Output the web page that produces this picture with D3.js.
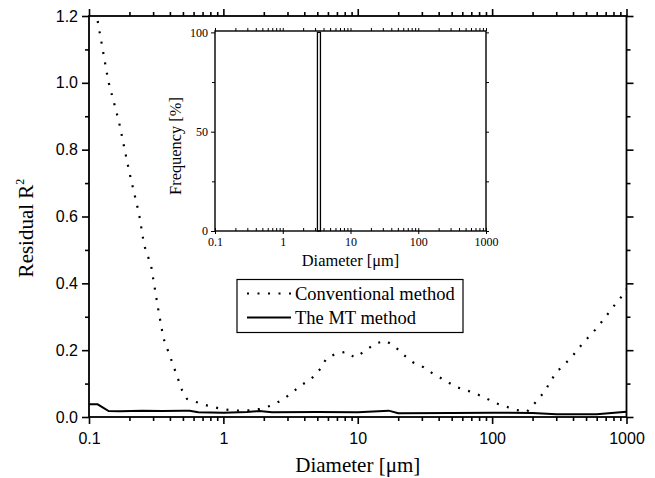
<!DOCTYPE html>
<html><head><meta charset="utf-8">
<script src="https://cdn.jsdelivr.net/npm/d3@7"></script>
<style>body{margin:0;background:#fff}svg{display:block}</style>
</head><body><svg id="c" width="655" height="478"></svg>
<script>
// ---------- data ----------
const convDiameter = [0.1,0.115,0.139,0.167,0.2,0.236,0.257,0.29,0.326,0.358,0.407,0.492,0.536,0.637,0.764,0.923,
  1.1,1.32,1.56,1.86,2.22,2.66,3.16,3.76,4.51,5.3,5.83,6.85,8.13,9.51,11.3,13.5,16.2,19.0,21.9,25.9,30.9,36.5,44.1,
  53.0,63.2,74.6,90.2,107,127,151,182,213,249,275,313,367,424,475,555,640,738,841,973,1000];
const convResidual = [1.34,1.194,1.006,0.884,0.731,0.607,0.515,0.452,0.327,0.236,0.174,0.081,0.054,0.044,0.034,0.026,
  0.021,0.019,0.020,0.024,0.033,0.048,0.069,0.094,0.114,0.145,0.175,0.189,0.195,0.178,0.197,0.220,0.228,0.210,0.186,0.163,
  0.149,0.129,0.111,0.091,0.081,0.071,0.056,0.041,0.031,0.021,0.016,0.046,0.079,0.111,0.141,0.168,0.196,0.222,0.250,
  0.280,0.312,0.342,0.372,0.383];
const mtDiameter = [0.1,0.116,0.14,0.17,0.25,0.35,0.5,0.56,0.65,1.0,1.5,1.85,2.3,5,10,17,20,50,100,200,300,600,1000];
const mtResidual = [0.038,0.038,0.018,0.017,0.019,0.018,0.019,0.019,0.014,0.013,0.015,0.018,0.014,0.015,0.014,0.019,0.011,0.012,0.013,0.012,0.008,0.008,0.016];

const xMajorTicks = [0.1,1,10,100,1000];
const yMajorTicks = [0,0.2,0.4,0.6,0.8,1.0,1.2];
const yMinorTicks = [0.1,0.3,0.5,0.7,0.9,1.1];

const insetBinStart = [3.25];
const insetBinEnd = [3.6];
const insetFreq = [100];
const insetYTicks = [0,50,100];
const insetYMinor = [25,75];

const legendLabels = ["Conventional method","The MT method"];

// ---------- layout ----------
const svg = d3.select("#c");
const M = {left:89, right:626.5, top:16, bottom:417};
const x = d3.scaleLog().domain([0.1,1000]).range([M.left,M.right]);
const y = d3.scaleLinear().domain([0,1.2]).range([M.bottom,M.top]);

const minorLog = [];
for (let e=-1;e<3;e++) for (let k=2;k<=9;k++) minorLog.push(k*Math.pow(10,e));

const sans = "Liberation Sans, Arial, sans-serif";
const serif = "Liberation Serif, Times New Roman, serif";

function styleAxis(g){
  g.select(".domain").remove();
  g.selectAll(".tick line").attr("stroke","#000").attr("stroke-width",1.6);
}

// main axes
const gx = svg.append("g").attr("transform",`translate(0,${M.bottom})`);
gx.call(d3.axisBottom(x).tickValues(xMajorTicks).tickSize(7).tickPadding(9)
  .tickFormat(d=>d3.format("~g")(d)));
styleAxis(gx);
gx.selectAll("text").attr("font-family",sans).attr("font-size",16).attr("fill","#000");
const gxm = svg.append("g").attr("transform",`translate(0,${M.bottom})`)
  .call(d3.axisBottom(x).tickValues(minorLog).tickSize(4).tickFormat(""));
styleAxis(gxm);

const gt = svg.append("g").attr("transform",`translate(0,${M.top})`)
  .call(d3.axisTop(x).tickValues(xMajorTicks).tickSize(7).tickFormat(""));
styleAxis(gt);
const gtm = svg.append("g").attr("transform",`translate(0,${M.top})`)
  .call(d3.axisTop(x).tickValues(minorLog).tickSize(4).tickFormat(""));
styleAxis(gtm);

const gy = svg.append("g").attr("transform",`translate(${M.left},0)`)
  .call(d3.axisLeft(y).tickValues(yMajorTicks).tickSize(7).tickPadding(4).tickFormat(d3.format(".1f")));
styleAxis(gy);
gy.selectAll("text").attr("font-family",sans).attr("font-size",16).attr("fill","#000");
const gym = svg.append("g").attr("transform",`translate(${M.left},0)`)
  .call(d3.axisLeft(y).tickValues(yMinorTicks).tickSize(4).tickFormat(""));
styleAxis(gym);

const gr = svg.append("g").attr("transform",`translate(${M.right},0)`)
  .call(d3.axisRight(y).tickValues(yMajorTicks).tickSize(7).tickFormat(""));
styleAxis(gr);
const grm = svg.append("g").attr("transform",`translate(${M.right},0)`)
  .call(d3.axisRight(y).tickValues(yMinorTicks).tickSize(4).tickFormat(""));
styleAxis(grm);

// clip
svg.append("clipPath").attr("id","plotclip").append("rect")
  .attr("x",M.left).attr("y",M.top).attr("width",M.right-M.left).attr("height",M.bottom-M.top);

const line = d3.line().x(d=>x(d[0])).y(d=>y(d[1]));
const plot = svg.append("g").attr("clip-path","url(#plotclip)");
plot.append("path").datum(convDiameter.map((d,i)=>[d,convResidual[i]]))
  .attr("d",line).attr("fill","none").attr("stroke","#000").attr("stroke-width",2.2)
  .attr("stroke-dasharray","2,8.5");
plot.append("path").datum(mtDiameter.map((d,i)=>[d,mtResidual[i]]))
  .attr("d",line).attr("fill","none").attr("stroke","#000").attr("stroke-width",2);

// frame
svg.append("rect").attr("x",M.left).attr("y",M.top).attr("width",M.right-M.left).attr("height",M.bottom-M.top)
  .attr("fill","none").attr("stroke","#000").attr("stroke-width",1.8);

// axis titles
svg.append("text").attr("x",(M.left+M.right)/2).attr("y",472).attr("text-anchor","middle")
  .attr("font-family",serif).attr("font-size",21).text("Diameter [μm]");
const yt = svg.append("text").attr("transform","translate(33,228) rotate(-90)").attr("text-anchor","middle")
  .attr("font-family",serif).attr("font-size",21);
yt.append("tspan").text("Residual R");
yt.append("tspan").attr("font-size",12).attr("dy",-9).text("2");

// ---------- inset ----------
const I = {left:215, right:486, top:31, bottom:231};
const xi = d3.scaleLog().domain([0.1,1000]).range([I.left,I.right]);
const yi = d3.scaleLinear().domain([0,100.7]).range([I.bottom,I.top]);
svg.append("rect").attr("x",I.left).attr("y",I.top).attr("width",I.right-I.left).attr("height",I.bottom-I.top)
  .attr("fill","#fff");

function styleInset(g){
  g.select(".domain").remove();
  g.selectAll(".tick line").attr("stroke","#000").attr("stroke-width",1);
  g.selectAll("text").attr("font-family",serif).attr("font-size",12).attr("fill","#000");
}
const ib = svg.append("g").attr("transform",`translate(0,${I.bottom})`)
  .call(d3.axisBottom(xi).tickValues(xMajorTicks).tickSize(3).tickPadding(3).tickFormat(d=>d3.format("~g")(d)));
styleInset(ib);
const ibIn = svg.append("g").attr("transform",`translate(0,${I.bottom})`)
  .call(d3.axisTop(xi).tickValues(xMajorTicks.concat(minorLog)).tickSize(3).tickFormat(""));
styleInset(ibIn);
const it = svg.append("g").attr("transform",`translate(0,${I.top})`)
  .call(d3.axisTop(xi).tickValues(xMajorTicks.concat(minorLog)).tickSize(3).tickFormat(""));
styleInset(it);
const il = svg.append("g").attr("transform",`translate(${I.left},0)`)
  .call(d3.axisLeft(yi).tickValues(insetYTicks).tickSize(4).tickPadding(3).tickFormat(d3.format("d")));
styleInset(il);
const ilm = svg.append("g").attr("transform",`translate(${I.left},0)`)
  .call(d3.axisLeft(yi).tickValues(insetYMinor).tickSize(3).tickFormat(""));
styleInset(ilm);
const ir = svg.append("g").attr("transform",`translate(${I.right},0)`)
  .call(d3.axisRight(yi).tickValues(insetYTicks.concat(insetYMinor)).tickSize(3).tickFormat(""));
styleInset(ir);

svg.append("g").selectAll("rect").data(insetFreq).join("rect")
  .attr("x",(d,i)=>xi(insetBinStart[i])).attr("width",(d,i)=>xi(insetBinEnd[i])-xi(insetBinStart[i]))
  .attr("y",d=>yi(d)).attr("height",d=>yi(0)-yi(d))
  .attr("fill","#fff").attr("stroke","#000").attr("stroke-width",1.3);

svg.append("rect").attr("x",I.left).attr("y",I.top).attr("width",I.right-I.left).attr("height",I.bottom-I.top)
  .attr("fill","none").attr("stroke","#000").attr("stroke-width",1.4);

svg.append("text").attr("x",(I.left+I.right)/2).attr("y",266).attr("text-anchor","middle")
  .attr("font-family",serif).attr("font-size",16.4).text("Diameter [μm]");
svg.append("text").attr("transform","translate(181,146) rotate(-90)").attr("text-anchor","middle")
  .attr("font-family",serif).attr("font-size",16.4).text("Frequency [%]");

// ---------- legend ----------
const lg = svg.append("g");
lg.append("rect").attr("x",237).attr("y",279.5).attr("width",226).attr("height",53)
  .attr("fill","#fff").attr("stroke","#000").attr("stroke-width",1.2);
const rows = [{dash:"2,8.5",w:2.2,cy:293.5},{dash:null,w:2,cy:317.5}];
legendLabels.forEach((lab,i)=>{
  const r = rows[i];
  lg.append("line").attr("x1",247).attr("x2",291).attr("y1",r.cy).attr("y2",r.cy)
    .attr("stroke","#000").attr("stroke-width",r.w).attr("stroke-dasharray",r.dash);
  lg.append("text").attr("x",295).attr("y",r.cy+6.5).attr("font-family",serif).attr("font-size",18.5).text(lab);
});
</script></body></html>
